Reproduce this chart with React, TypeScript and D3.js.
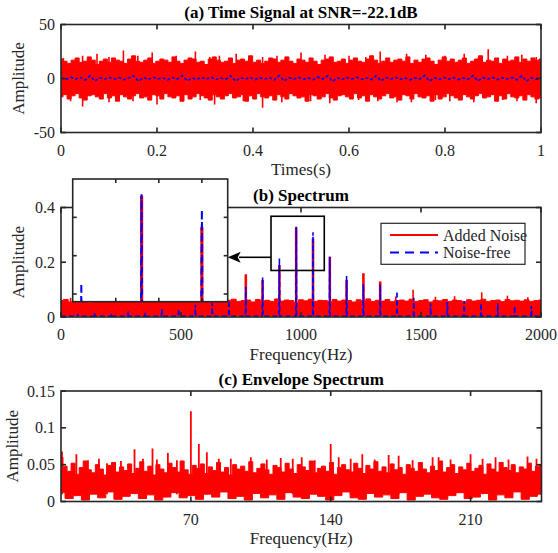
import React from "react";
import * as d3 from "d3";

// ---------- Panel (a): time signal ----------
const timeTicks = [0, 0.2, 0.4, 0.6, 0.8, 1];
const timeTickLabels = ["0", "0.2", "0.4", "0.6", "0.8", "1"];
const ampATicks = [-50, 0, 50];
const ampATickLabels = ["-50", "0", "50"];
// envelope of the noisy signal (evenly spaced over 0..1 s)
const noisyUpperA = [18, 16, 14, 17, 19, 15, 16, 20, 17, 13, 16, 18, 15, 19, 17, 16, 14, 18, 21, 16, 15, 17, 19, 14, 16, 18, 17, 15, 20, 16, 14, 17, 19, 18, 15, 16, 13, 18, 20, 17, 15, 16, 19, 14, 17, 18, 16, 21, 15, 17, 14, 16, 19, 18, 15, 17, 20, 16, 14, 18, 17, 15, 19, 16, 13, 17, 18, 20, 15, 16, 18, 14, 17, 19, 16, 15, 18, 21, 17, 14, 16, 19, 15, 17, 18, 16, 20, 14, 17, 15, 18, 19, 16, 13, 17, 20, 16, 18, 15, 17, 19, 14, 16, 18, 21, 15, 17, 16, 19, 14, 18, 16, 17, 20, 15, 18, 16, 19, 17, 18];
const noisyLowerA = [-17, -15, -19, -16, -14, -18, -20, -16, -15, -17, -19, -14, -18, -16, -21, -15, -17, -19, -16, -14, -18, -17, -20, -15, -16, -19, -14, -17, -18, -16, -21, -15, -19, -17, -14, -16, -18, -20, -15, -17, -19, -16, -14, -18, -17, -15, -21, -16, -19, -14, -17, -18, -16, -20, -15, -17, -19, -14, -16, -18, -17, -21, -15, -16, -19, -17, -14, -18, -20, -16, -15, -17, -19, -14, -18, -16, -21, -15, -17, -19, -16, -14, -18, -17, -20, -15, -16, -19, -14, -17, -18, -16, -21, -15, -19, -17, -14, -16, -18, -20, -15, -17, -19, -16, -14, -18, -17, -15, -21, -16, -19, -14, -17, -18, -16, -20, -15, -17, -19, -18];
const spikeUpT = [0.005, 0.045, 0.075, 0.1, 0.13, 0.16, 0.19, 0.24, 0.28, 0.31, 0.33, 0.365, 0.42, 0.45, 0.5, 0.55, 0.6, 0.635, 0.665, 0.72, 0.76, 0.8, 0.84, 0.87, 0.89, 0.93, 0.96, 0.99];
const spikeUpV = [19, 21, 23, 20, 26, 21, 24, 21, 25, 20, 21, 23, 20, 21, 24, 22, 21, 20, 25, 23, 22, 21, 23, 20, 27, 21, 22, 20];
const spikeDownT = [0.02, 0.045, 0.1, 0.15, 0.2, 0.25, 0.29, 0.32, 0.38, 0.42, 0.46, 0.52, 0.56, 0.62, 0.66, 0.7, 0.73, 0.78, 0.81, 0.86, 0.92, 0.95, 0.99];
const spikeDownV = [-21, -26, -22, -21, -24, -21, -20, -24, -21, -27, -22, -21, -23, -20, -21, -22, -22, -20, -21, -22, -20, -21, -23];
const cleanA = [0.5, -0.8, 1.2, -0.5, 0.9, -1.4, 2.6, -2.2, 0.6, -0.7, 1.0, -0.6, 0.8, -1.1, 0.4, 2.4, -2.5, 0.7, -0.9, 1.1, -0.4, 0.6, -1.2, 0.9, -0.5, 2.7, -2.1, 0.5, -0.8, 1.0, -0.6, 1.2, -0.9, 0.4, -0.7, 2.5, -2.4, 0.8, -0.5, 1.1, -1.0, 0.6, -0.4, 0.9, -1.3, 2.6, -2.3, 0.7, -0.6, 1.0, -0.8, 0.5, -1.1, 1.2, -0.5, 2.4, -2.6, 0.6, -0.9, 0.8, -0.4, 1.1, -0.7, 0.5, -1.0, 2.5, -2.2, 0.9, -0.6, 1.0, -0.8, 0.4, -1.2, 0.7, -0.5, 2.7, -2.4, 0.6, -0.9, 1.1, -0.6, 0.8, -1.0, 0.5, -0.7, 2.6, -2.3, 0.8, -0.5, 1.0, -1.1, 0.6, -0.4, 0.9, -1.2, 2.4, -2.5, 0.7, -0.8, 1.0];

// ---------- Panel (b): spectrum ----------
const freqTicks = [0, 500, 1000, 1500, 2000];
const freqTickLabels = ["0", "500", "1000", "1500", "2000"];
const ampBTicks = [0, 0.2, 0.4];
const ampBTickLabels = ["0", "0.2", "0.4"];
const noiseFloorB = [0.06, 0.064, 0.055, 0.062, 0.058, 0.066, 0.052, 0.061, 0.063, 0.057, 0.06, 0.068, 0.054, 0.059, 0.065, 0.056, 0.062, 0.06, 0.053, 0.064, 0.058, 0.061, 0.067, 0.055, 0.06, 0.063, 0.057, 0.062, 0.059, 0.054, 0.066, 0.06, 0.058, 0.063, 0.056, 0.061, 0.065, 0.057, 0.06, 0.062, 0.055, 0.064, 0.059, 0.061, 0.057, 0.066, 0.058, 0.062, 0.06, 0.054, 0.063, 0.059, 0.065, 0.057, 0.061, 0.06, 0.056, 0.064, 0.058, 0.062, 0.06, 0.055, 0.063, 0.059, 0.066, 0.057, 0.061, 0.058, 0.064, 0.056, 0.06, 0.062, 0.058, 0.065, 0.057, 0.06, 0.063, 0.055, 0.061, 0.059, 0.064, 0.057, 0.062, 0.06, 0.056, 0.063, 0.058, 0.061, 0.065, 0.057, 0.06, 0.062, 0.056, 0.064, 0.059, 0.061, 0.058, 0.063, 0.057, 0.06, 0.062];
const noiseBottomB = 0.004;
const noiseSpikeF = [40, 180, 330, 600, 690, 1395, 1467, 1560, 1640, 1753, 1860, 1945];
const noiseSpikeV = [0.07, 0.072, 0.071, 0.073, 0.075, 0.075, 0.1, 0.074, 0.076, 0.09, 0.078, 0.072];
const noisyPeakF = [770, 840, 910, 980, 1050, 1120, 1190, 1260, 1330];
const noisyPeakV = [0.156, 0.135, 0.19, 0.328, 0.287, 0.22, 0.135, 0.16, 0.13];
const cleanPeakF = [70, 140, 210, 280, 350, 420, 490, 560, 630, 700, 770, 840, 910, 980, 1050, 1120, 1190, 1260, 1330, 1400, 1470, 1540, 1610, 1680, 1750, 1820, 1890, 1960];
const cleanPeakV = [0.01, 0.015, 0.012, 0.02, 0.015, 0.03, 0.03, 0.045, 0.05, 0.06, 0.11, 0.145, 0.214, 0.33, 0.31, 0.22, 0.15, 0.12, 0.12, 0.095, 0.07, 0.05, 0.055, 0.058, 0.05, 0.05, 0.04, 0.04];
const cleanBase = 0.003;
const insetFreqTicks = [950, 1000, 1050];
const insetAmpTicks = [0.2, 0.25, 0.3];
const legendLabels = ["Added Noise", "Noise-free"];

// ---------- Panel (c): envelope spectrum ----------
const envTicks = [70, 140, 210];
const envTickLabels = ["70", "140", "210"];
const ampCTicks = [0, 0.05, 0.1, 0.15];
const ampCTickLabels = ["0", "0.05", "0.1", "0.15"];
const envUpper = [0.06, 0.048, 0.041, 0.052, 0.037, 0.046, 0.055, 0.043, 0.039, 0.05, 0.044, 0.036, 0.049, 0.053, 0.04, 0.047, 0.042, 0.051, 0.038, 0.045, 0.054, 0.041, 0.048, 0.036, 0.05, 0.044, 0.039, 0.052, 0.046, 0.04, 0.055, 0.043, 0.037, 0.049, 0.045, 0.051, 0.038, 0.047, 0.042, 0.053, 0.04, 0.046, 0.036, 0.05, 0.044, 0.048, 0.041, 0.054, 0.039, 0.045, 0.051, 0.043, 0.037, 0.049, 0.046, 0.04, 0.052, 0.044, 0.038, 0.05, 0.047, 0.042, 0.055, 0.039, 0.045, 0.048, 0.041, 0.053, 0.037, 0.046, 0.05, 0.043, 0.04, 0.052, 0.045, 0.038, 0.049, 0.044, 0.054, 0.041, 0.047, 0.039, 0.051, 0.043, 0.046, 0.037, 0.05, 0.045, 0.041, 0.053, 0.044, 0.039, 0.048, 0.042, 0.055, 0.04, 0.046, 0.05, 0.038, 0.047, 0.043, 0.052, 0.041, 0.045, 0.049, 0.037, 0.051, 0.044, 0.04, 0.053, 0.046, 0.042, 0.05, 0.039, 0.047, 0.044, 0.052, 0.041, 0.048, 0.05];
const envLower = [0.012, 0.004, 0.008, 0.002, 0.01, 0.005, 0.013, 0.003, 0.007, 0.011, 0.004, 0.009, 0.002, 0.006, 0.012, 0.005, 0.008, 0.003, 0.01, 0.006, 0.013, 0.004, 0.007, 0.002, 0.011, 0.005, 0.009, 0.003, 0.012, 0.006, 0.004, 0.01, 0.007, 0.002, 0.008, 0.013, 0.005, 0.003, 0.011, 0.006, 0.009, 0.004, 0.012, 0.002, 0.007, 0.01, 0.005, 0.003, 0.008, 0.012, 0.004, 0.006, 0.011, 0.002, 0.009, 0.005, 0.013, 0.003, 0.007, 0.01];
const envSpikeF = [5.5, 12.7, 18.5, 24, 28, 35, 41.8, 46, 50.8, 53, 58.5, 63, 70, 74, 78, 84, 90, 100, 108, 115, 121, 125.5, 132, 140, 144, 150, 155.8, 162, 169, 174, 181, 191, 194, 200, 210, 216, 222.5, 229, 238.5, 243];
const envSpikeV = [0.068, 0.064, 0.056, 0.058, 0.052, 0.055, 0.071, 0.058, 0.072, 0.057, 0.066, 0.056, 0.1225, 0.078, 0.067, 0.058, 0.058, 0.06, 0.057, 0.059, 0.058, 0.06, 0.056, 0.078, 0.06, 0.058, 0.064, 0.057, 0.063, 0.062, 0.056, 0.06, 0.06, 0.057, 0.064, 0.058, 0.06, 0.057, 0.061, 0.058];

const AXIS = "#262626";
const FONT = "'Liberation Serif','Times New Roman',serif";
const RED = "#ff0000";
const BLUE = "#0000ff";

type Frame = { left: number; right: number; top: number; bottom: number };
type Pt = [number, number];

const stepLine = d3.line<Pt>().x((d) => d[0]).y((d) => d[1]).curve(d3.curveStep);

// closed band: upper step edge, then lower step edge reversed
function bandPath(upper: Pt[], lower: Pt[]): string {
  const up = stepLine(upper) as string;
  const lo = (stepLine(lower.slice().reverse()) as string).replace(/^M/, "L");
  return up + lo + "Z";
}

function AxesBox(props: {
  f: Frame;
  x: d3.ScaleLinear<number, number>;
  y: d3.ScaleLinear<number, number>;
  xTicks: number[];
  xLabels: string[];
  yTicks: number[];
  yLabels: string[];
  title: string;
  xTitle: string;
  yTitleX: number;
}) {
  const { f, x, y, xTicks, xLabels, yTicks, yLabels, title, xTitle, yTitleX } = props;
  const tl = 5;
  const cx = (f.left + f.right) / 2;
  const cy = (f.top + f.bottom) / 2;
  return (
    <g>
      <rect x={f.left} y={f.top} width={f.right - f.left} height={f.bottom - f.top} fill="none" stroke={AXIS} strokeWidth={1.6} />
      {xTicks.map((t, i) => (
        <g key={"xt" + i}>
          <line x1={x(t)} x2={x(t)} y1={f.bottom} y2={f.bottom - tl} stroke={AXIS} strokeWidth={1.6} />
          <line x1={x(t)} x2={x(t)} y1={f.top} y2={f.top + tl} stroke={AXIS} strokeWidth={1.6} />
          <text x={x(t)} y={f.bottom + 17.5} textAnchor="middle" dominantBaseline="central" fontSize={16} fill={AXIS} fontFamily={FONT}>{xLabels[i]}</text>
        </g>
      ))}
      {yTicks.map((t, i) => (
        <g key={"yt" + i}>
          <line x1={f.left} x2={f.left + tl} y1={y(t)} y2={y(t)} stroke={AXIS} strokeWidth={1.6} />
          <line x1={f.right} x2={f.right - tl} y1={y(t)} y2={y(t)} stroke={AXIS} strokeWidth={1.6} />
          <text x={f.left - 6} y={y(t)} textAnchor="end" dominantBaseline="central" fontSize={16} fill={AXIS} fontFamily={FONT}>{yLabels[i]}</text>
        </g>
      ))}
      <text x={cx} y={f.top - 6.5} textAnchor="middle" fontSize={17} fontWeight="bold" fill="#000" fontFamily={FONT}>{title}</text>
      <text x={cx} y={f.bottom + 37} textAnchor="middle" dominantBaseline="central" fontSize={17} fill={AXIS} fontFamily={FONT}>{xTitle}</text>
      <text transform={`translate(${yTitleX},${cy}) rotate(-90)`} textAnchor="middle" dominantBaseline="central" fontSize={17} fill={AXIS} fontFamily={FONT}>Amplitude</text>
    </g>
  );
}

export default function App() {
  // ----- panel a -----
  const fa: Frame = { left: 61, right: 541, top: 24.5, bottom: 132.5 };
  const xa = d3.scaleLinear().domain([0, 1]).range([fa.left, fa.right]);
  const ya = d3.scaleLinear().domain([-50, 50]).range([fa.bottom, fa.top]);
  const upA: Pt[] = noisyUpperA.map((v, i) => [xa(i / (noisyUpperA.length - 1)), ya(v)]);
  const loA: Pt[] = noisyLowerA.map((v, i) => [xa(i / (noisyLowerA.length - 1)), ya(v)]);
  const bandA = bandPath(upA, loA);
  const cleanLineA = d3
    .line<number>()
    .x((_, i) => xa(i / (cleanA.length - 1)))
    .y((d) => ya(d))(cleanA) as string;

  // ----- panel b -----
  const fb: Frame = { left: 61, right: 541, top: 207.5, bottom: 317 };
  const xb = d3.scaleLinear().domain([0, 2000]).range([fb.left, fb.right]);
  const yb = d3.scaleLinear().domain([0, 0.4]).range([fb.bottom, fb.top]);
  const upB: Pt[] = noiseFloorB.map((v, i) => [xb((i / (noiseFloorB.length - 1)) * 2000), yb(v)]);
  const loB: Pt[] = [[xb(0), yb(noiseBottomB)], [xb(2000), yb(noiseBottomB)]];
  const bandB = bandPath(upB, loB);
  const cleanPts: Pt[] = [[0, cleanBase]];
  cleanPeakF.forEach((fq, i) => {
    cleanPts.push([fq - 1.5, cleanBase], [fq, cleanPeakV[i]], [fq + 1.5, cleanBase]);
  });
  cleanPts.push([2000, cleanBase]);
  const cleanLineB = (sx: d3.ScaleLinear<number, number>, sy: d3.ScaleLinear<number, number>) =>
    d3
      .line<Pt>()
      .x((d) => sx(d[0]))
      .y((d) => sy(d[1]))(cleanPts) as string;

  // zoom rectangle and inset
  const zoomBox = { f0: 875, f1: 1097, a0: 0.17, a1: 0.368 };
  const fi: Frame = { left: 72.7, right: 227.7, top: 179, bottom: 301.7 };
  const xi = d3.scaleLinear().domain([900, 1080]).range([fi.left, fi.right]);
  const yi = d3.scaleLinear().domain([0.19, 0.35]).range([fi.bottom, fi.top]);
  const arrowY = 257.3;

  // ----- panel c -----
  const fc: Frame = { left: 61, right: 541.5, top: 391, bottom: 501.5 };
  const xc = d3.scaleLinear().domain([5, 245.5]).range([fc.left, fc.right]);
  const yc = d3.scaleLinear().domain([0, 0.15]).range([fc.bottom, fc.top]);
  const upC: Pt[] = envUpper.map((v, i) => [xc(5 + (i / (envUpper.length - 1)) * 240.5), yc(v)]);
  const loC: Pt[] = envLower.map((v, i) => [xc(5 + (i / (envLower.length - 1)) * 240.5), yc(v)]);
  const bandC = bandPath(upC, loC);

  return (
    <svg width={558} height={553} style={{ position: "absolute", left: 0, top: 0, background: "#fff" }} fontFamily={FONT}>
      <defs>
        <clipPath id="ca"><rect x={fa.left} y={fa.top} width={fa.right - fa.left} height={fa.bottom - fa.top} /></clipPath>
        <clipPath id="cb"><rect x={fb.left} y={fb.top} width={fb.right - fb.left} height={fb.bottom - fb.top} /></clipPath>
        <clipPath id="cc"><rect x={fc.left} y={fc.top} width={fc.right - fc.left} height={fc.bottom - fc.top} /></clipPath>
        <clipPath id="ci"><rect x={fi.left} y={fi.top} width={fi.right - fi.left} height={fi.bottom - fi.top} /></clipPath>
      </defs>
      <rect width={558} height={553} fill="#fff" />

      {/* Panel a */}
      <g clipPath="url(#ca)">
        <path d={bandA} fill={RED} stroke={RED} strokeWidth={1} />
        {spikeUpT.map((t, i) => (
          <line key={"su" + i} x1={xa(t)} x2={xa(t)} y1={ya(0)} y2={ya(spikeUpV[i])} stroke={RED} strokeWidth={1.6} />
        ))}
        {spikeDownT.map((t, i) => (
          <line key={"sd" + i} x1={xa(t)} x2={xa(t)} y1={ya(0)} y2={ya(spikeDownV[i])} stroke={RED} strokeWidth={1.6} />
        ))}
        <path d={cleanLineA} fill="none" stroke={BLUE} strokeWidth={1.6} strokeDasharray="3,2" />
      </g>
      <AxesBox f={fa} x={xa} y={ya} xTicks={timeTicks} xLabels={timeTickLabels} yTicks={ampATicks} yLabels={ampATickLabels} title="(a) Time Signal at SNR=-22.1dB" xTitle="Times(s)" yTitleX={18} />

      {/* Panel b */}
      <g clipPath="url(#cb)">
        <path d={bandB} fill={RED} stroke={RED} strokeWidth={1} />
        {noiseSpikeF.map((fq, i) => (
          <line key={"ns" + i} x1={xb(fq)} x2={xb(fq)} y1={yb(0.01)} y2={yb(noiseSpikeV[i])} stroke={RED} strokeWidth={1.6} />
        ))}
        {noisyPeakF.map((fq, i) => (
          <line key={"np" + i} x1={xb(fq)} x2={xb(fq)} y1={yb(0.005)} y2={yb(noisyPeakV[i])} stroke={RED} strokeWidth={2.6} />
        ))}
        <path d={cleanLineB(xb, yb)} fill="none" stroke={BLUE} strokeWidth={1.6} strokeDasharray="5,3" />
      </g>
      <AxesBox f={fb} x={xb} y={yb} xTicks={freqTicks} xLabels={freqTickLabels} yTicks={ampBTicks} yLabels={ampBTickLabels} title="(b) Spectrum" xTitle="Frequency(Hz)" yTitleX={18} />

      {/* legend */}
      <g>
        <rect x={381} y={223.3} width={144} height={41} fill="#fff" stroke={AXIS} strokeWidth={1.2} />
        <line x1={390} x2={438} y1={235} y2={235} stroke={RED} strokeWidth={2.2} />
        <line x1={390} x2={438} y1={252.5} y2={252.5} stroke={BLUE} strokeWidth={2.2} strokeDasharray="9,6" />
        <text x={443} y={235} dominantBaseline="central" fontSize={16} fill={AXIS} fontFamily={FONT}>{legendLabels[0]}</text>
        <text x={443} y={252.5} dominantBaseline="central" fontSize={16} fill={AXIS} fontFamily={FONT}>{legendLabels[1]}</text>
      </g>

      {/* zoom rectangle + arrow */}
      <rect x={xb(zoomBox.f0)} y={yb(zoomBox.a1)} width={xb(zoomBox.f1) - xb(zoomBox.f0)} height={yb(zoomBox.a0) - yb(zoomBox.a1)} fill="none" stroke="#000" strokeWidth={1.6} />
      <line x1={xb(zoomBox.f0)} x2={239} y1={arrowY} y2={arrowY} stroke="#000" strokeWidth={1.6} />
      <polygon points={`${fi.right},${arrowY} ${fi.right + 13},${arrowY - 5.5} ${fi.right + 10},${arrowY} ${fi.right + 13},${arrowY + 5.5}`} fill="#000" />

      {/* inset */}
      <rect x={fi.left} y={fi.top} width={fi.right - fi.left} height={fi.bottom - fi.top} fill="#fff" />
      <g clipPath="url(#ci)">
        {noisyPeakF.map((fq, i) => (
          <line key={"ip" + i} x1={xi(fq)} x2={xi(fq)} y1={fi.bottom + 5} y2={yi(noisyPeakV[i])} stroke={RED} strokeWidth={3.2} />
        ))}
        <path d={cleanLineB(xi, yi)} fill="none" stroke={BLUE} strokeWidth={2} strokeDasharray="6,5" />
      </g>
      <rect x={fi.left} y={fi.top} width={fi.right - fi.left} height={fi.bottom - fi.top} fill="none" stroke={AXIS} strokeWidth={1.6} />
      {insetFreqTicks.map((t, i) => (
        <g key={"ixt" + i}>
          <line x1={xi(t)} x2={xi(t)} y1={fi.top} y2={fi.top + 4} stroke={AXIS} strokeWidth={1.6} />
          <line x1={xi(t)} x2={xi(t)} y1={fi.bottom} y2={fi.bottom - 4} stroke={AXIS} strokeWidth={1.6} />
        </g>
      ))}
      {insetAmpTicks.map((t, i) => (
        <g key={"iyt" + i}>
          <line x1={fi.left} x2={fi.left + 4} y1={yi(t)} y2={yi(t)} stroke={AXIS} strokeWidth={1.6} />
          <line x1={fi.right} x2={fi.right - 4} y1={yi(t)} y2={yi(t)} stroke={AXIS} strokeWidth={1.6} />
        </g>
      ))}

      {/* Panel c */}
      <g clipPath="url(#cc)">
        <path d={bandC} fill={RED} stroke={RED} strokeWidth={1} />
        {envSpikeF.map((fq, i) => (
          <line key={"es" + i} x1={xc(fq)} x2={xc(fq)} y1={yc(0.01)} y2={yc(envSpikeV[i])} stroke={RED} strokeWidth={1.8} />
        ))}
      </g>
      <AxesBox f={fc} x={xc} y={yc} xTicks={envTicks} xLabels={envTickLabels} yTicks={ampCTicks} yLabels={ampCTickLabels} title="(c) Envelope Spectrum" xTitle="Frequency(Hz)" yTitleX={12} />
    </svg>
  );
}
